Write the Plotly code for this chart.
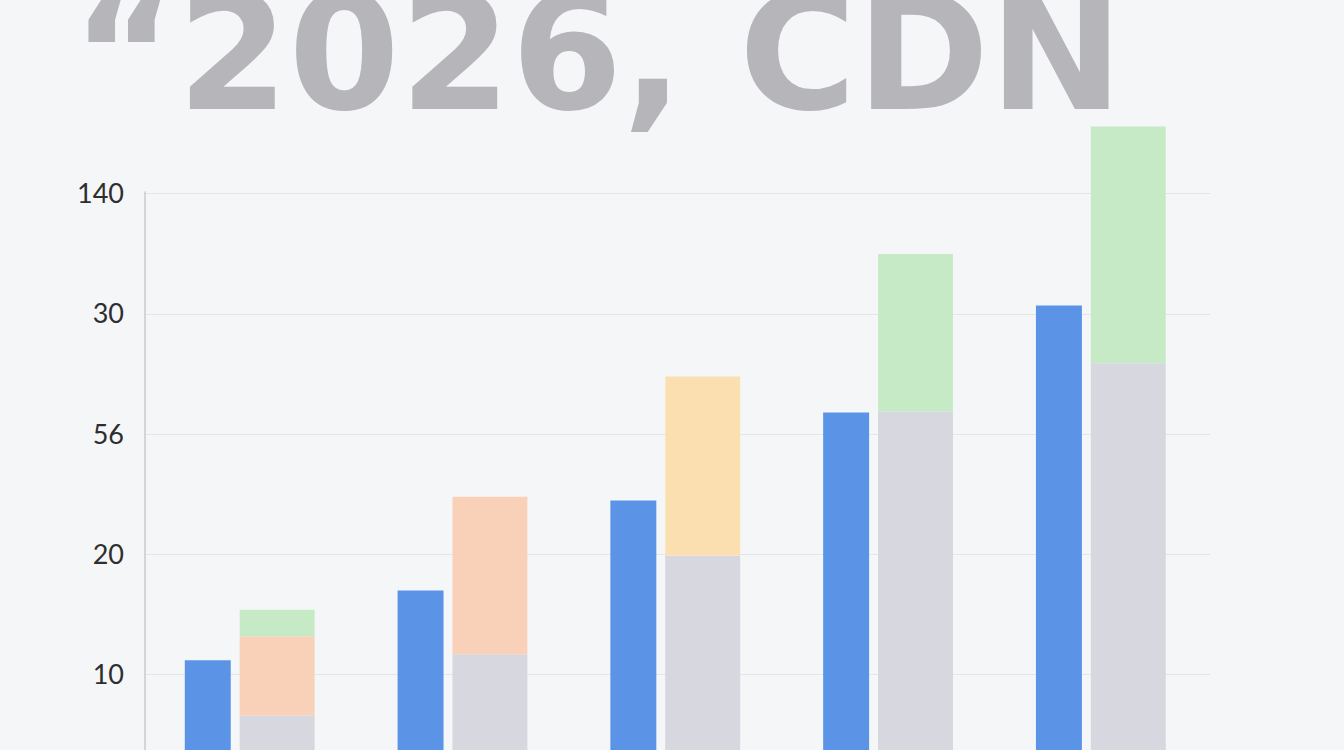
import plotly.graph_objects as go

# groups along the x axis
groups = ["G1", "G2", "G3", "G4", "G5"]

# axis positions of the grid ticks and the (odd) labels printed on them
tick_pos = [1, 2, 3, 4, 5]
tick_text = ["10", "20", "56", "30", "140"]

# single blue bar in each group
blue = [1.12, 1.70, 2.45, 3.18, 4.07]

# stacked bar segments, bottom to top
grey = [0.66, 1.17, 1.99, 3.19, 3.59]
orange = [0.66, 1.31, 0, 0, 0]
yellow = [0, 0, 1.49, 0, 0]
green = [0.22, 0, 0, 1.31, 1.97]

title_text = "“2026, CDN"

bg = "#f5f6f8"

fig = go.Figure()

fig.add_trace(go.Bar(x=groups, y=blue, width=0.216, offset=-0.303,
                     marker=dict(color="#5b94e7", line=dict(width=0)), name="blue"))

# stack by hand, base = sum of segments below
base = [0] * len(groups)
for vals, col in [(grey, "#d6d7df"), (orange, "#f9d0b8"), (yellow, "#fcdfb0"), (green, "#c7eac6")]:
    fig.add_trace(go.Bar(x=groups, y=vals, base=base[:], width=0.352, offset=-0.045,
                         marker=dict(color=col, line=dict(width=0))))
    base = [b + v for b, v in zip(base, vals)]

fig.update_layout(
    width=1344, height=750,
    barmode="overlay",
    showlegend=False,
    paper_bgcolor=bg,
    plot_bgcolor=bg,
    margin=dict(l=145, r=134, t=100, b=0),
    xaxis=dict(range=[-0.49, 4.515], showticklabels=False, showgrid=False,
               zeroline=False, showline=False),
    yaxis=dict(range=[0.374, 5.78], tickvals=tick_pos, ticktext=tick_text,
               showgrid=True, gridcolor="#e3e5e9", gridwidth=1, zeroline=False,
               showline=False, ticks="", ticklabelstandoff=20,
               tickfont=dict(family="Lato", size=27, color="#2e2e2e")),
)

# y axis line only up to the top grid line
fig.add_shape(type="line", xref="paper", yref="y", x0=0, x1=0, y0=0.374, y1=5.02,
              line=dict(color="#c9cacd", width=1.5))

fig.add_annotation(text=title_text, xref="paper", yref="paper", x=-0.07, y=1.071,
                   xanchor="left", yanchor="middle", showarrow=False,
                   font=dict(family="DejaVu Sans", size=160, color="#b5b5ba", weight="bold"))

# drop the default page margin so the figure sits at the top-left corner
fig.write_html("out.html", config={"displayModeBar": False}, post_script=(
    "document.body.style.margin='0';"
    "document.body.style.background='" + bg + "';"))
